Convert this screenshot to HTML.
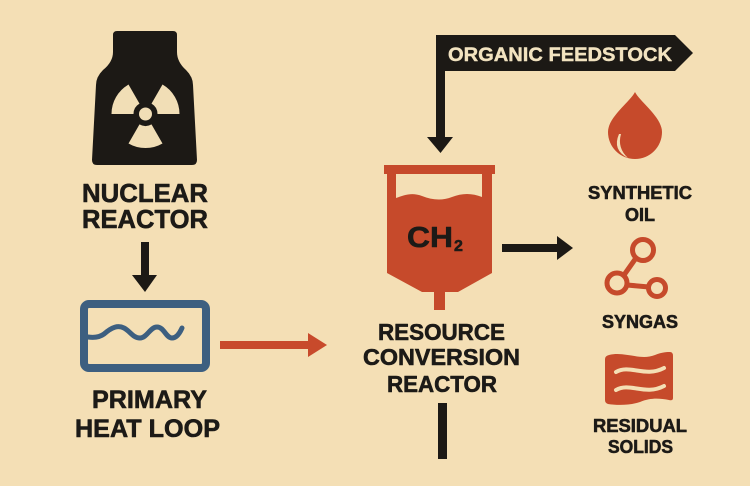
<!DOCTYPE html>
<html>
<head>
<meta charset="utf-8">
<style>
  html, body { margin:0; padding:0; background:#f4dfb5; }
  svg { display:block; }
  text { font-family: "Liberation Sans", Arial, sans-serif; font-weight:bold; fill:#1c1a17; stroke:#1c1a17; stroke-width:0.6; stroke-linejoin:round; }
</style>
</head>
<body>
<svg width="750" height="486" viewBox="0 0 750 486" xmlns="http://www.w3.org/2000/svg">
  <rect x="0" y="0" width="750" height="486" fill="#f4dfb5"/>

  <!-- Nuclear reactor body -->
  <path d="M117,31 L173,31 Q177,31 177,35 L177,52 Q177,62 186,70 Q193,77 193,85 L197,160 Q197,165 192,165 L97,165 Q92,165 92,160 L96,85 Q96,77 103,70 Q113,62 113,52 L113,35 Q113,31 117,31 Z" fill="#1c1915"/>
  <!-- Radiation trefoil -->
  <g fill="#f1deb6">
    <path d="M128.5,84.56 A34,34 0 0 0 111.5,114 L133.5,114 A12,12 0 0 1 139.5,103.61 Z"/>
    <path d="M162.5,84.56 A34,34 0 0 1 179.5,114 L157.5,114 A12,12 0 0 0 151.5,103.61 Z"/>
    <path d="M128.5,143.44 A34,34 0 0 0 162.5,143.44 L151.5,124.39 A12,12 0 0 1 139.5,124.39 Z"/>
    <circle cx="145.5" cy="114" r="6.5"/>
  </g>

  <text x="145" y="202" font-size="26" text-anchor="middle" textLength="126" lengthAdjust="spacingAndGlyphs">NUCLEAR</text>
  <text x="145" y="228" font-size="26" text-anchor="middle" textLength="126" lengthAdjust="spacingAndGlyphs">REACTOR</text>

  <!-- Arrow nuclear -> heat loop -->
  <rect x="141" y="242" width="8" height="34" fill="#1c1915"/>
  <polygon points="132,275 157,275 145,292" fill="#1c1915"/>

  <!-- Primary heat loop box -->
  <rect x="84" y="304" width="122" height="64" rx="5" ry="5" fill="none" stroke="#3d5f80" stroke-width="8"/>
  <path d="M88,337 C95,338 100,337 104,334 C112,327 118,325 124,328 C130,331 133,338 140,338 C147,338 150,327 157,327 C164,327 166,338 172,338 C178,338 181,330 182,328" fill="none" stroke="#3d5f80" stroke-width="5" stroke-linecap="round"/>

  <text x="149.5" y="408" font-size="25" text-anchor="middle" textLength="115" lengthAdjust="spacingAndGlyphs">PRIMARY</text>
  <text x="147.5" y="437" font-size="25" text-anchor="middle" textLength="145" lengthAdjust="spacingAndGlyphs">HEAT LOOP</text>

  <!-- Red arrow heat loop -> reactor -->
  <rect x="220" y="341" width="90" height="8" fill="#c84a2b"/>
  <polygon points="308,333 327,345 308,357" fill="#c84a2b"/>

  <!-- Organic feedstock banner + arrow -->
  <path d="M436,35 L675,35 L693,53 L675,71 L445,71 L445,137 L453,137 L440.5,153 L427,137 L436,137 Z" fill="#1c1915"/>
  <text x="448" y="61" font-size="19" textLength="224" lengthAdjust="spacingAndGlyphs" style="fill:#f2e3c0;stroke:#f2e3c0;stroke-width:0.4">ORGANIC FEEDSTOCK</text>

  <!-- Conversion tank -->
  <rect x="384" y="165" width="111" height="9" fill="#c64a2b"/>
  <path d="M387,174 L492,174 L492,273 L458,292 L422,292 L387,273 Z" fill="#c64a2b"/>
  <path d="M396,174 L482,174 L482,197 C472,193 462,193 452,197 C442,201 432,200 422,196 C412,192 404,195 396,198 Z" fill="#f4dfb5"/>
  <rect x="434" y="291" width="11" height="19" fill="#c64a2b"/>
  <text x="407" y="247" font-size="29" textLength="46" lengthAdjust="spacingAndGlyphs">CH</text>
  <text x="454" y="251" font-size="16">2</text>

  <!-- Black arrow to products -->
  <rect x="502" y="244" width="56" height="8" fill="#1c1915"/>
  <polygon points="557,236 573,248 557,260" fill="#1c1915"/>

  <text x="441.5" y="340" font-size="23" text-anchor="middle" textLength="127" lengthAdjust="spacingAndGlyphs">RESOURCE</text>
  <text x="441.5" y="365" font-size="23" text-anchor="middle" textLength="157" lengthAdjust="spacingAndGlyphs">CONVERSION</text>
  <text x="442" y="392" font-size="23" text-anchor="middle" textLength="110" lengthAdjust="spacingAndGlyphs">REACTOR</text>

  <!-- Bottom bar -->
  <rect x="438" y="403" width="9" height="56" fill="#1c1915"/>

  <!-- Oil drop -->
  <path d="M635,92 C640,102 662,117 662,132 A27,27 0 0 1 608,132 C608,117 630,102 635,92 Z" fill="#c64a2b"/>
  <path d="M619,134 Q612,150 628,158 Q617,148 621,134 Z" fill="#f4dfb5"/>
  <text x="640" y="199" font-size="18" text-anchor="middle" textLength="104" lengthAdjust="spacingAndGlyphs">SYNTHETIC</text>
  <text x="640" y="221" font-size="18" text-anchor="middle">OIL</text>

  <!-- Syngas molecule -->
  <g fill="none" stroke="#c64a2b" stroke-width="5">
    <circle cx="643" cy="250" r="10.5"/>
    <circle cx="617" cy="283" r="10"/>
    <circle cx="657" cy="288" r="8.5"/>
    <line x1="636" y1="258" x2="624" y2="275"/>
    <line x1="627" y1="285" x2="649" y2="287"/>
  </g>
  <text x="640" y="328" font-size="18" text-anchor="middle" textLength="76" lengthAdjust="spacingAndGlyphs">SYNGAS</text>

  <!-- Residual solids -->
  <path d="M605,359 Q605,356 609,355 C625,351 640,361 655,355 C662,352 668,352 670,352 Q673,352 673,356 L673,398 Q673,401 669,400 C658,398 650,398 640,402 C628,406 615,405 608,404 Q605,403 605,400 Z" fill="#c64a2b"/>
  <path d="M616,372 C630,364 645,378 664,368" fill="none" stroke="#f4dfb5" stroke-width="4" stroke-linecap="round"/>
  <path d="M616,390 C630,382 645,396 664,386" fill="none" stroke="#f4dfb5" stroke-width="4" stroke-linecap="round"/>
  <text x="640" y="432" font-size="18" text-anchor="middle" textLength="94" lengthAdjust="spacingAndGlyphs">RESIDUAL</text>
  <text x="640.5" y="453" font-size="18" text-anchor="middle" textLength="65" lengthAdjust="spacingAndGlyphs">SOLIDS</text>
</svg>
</body>
</html>
